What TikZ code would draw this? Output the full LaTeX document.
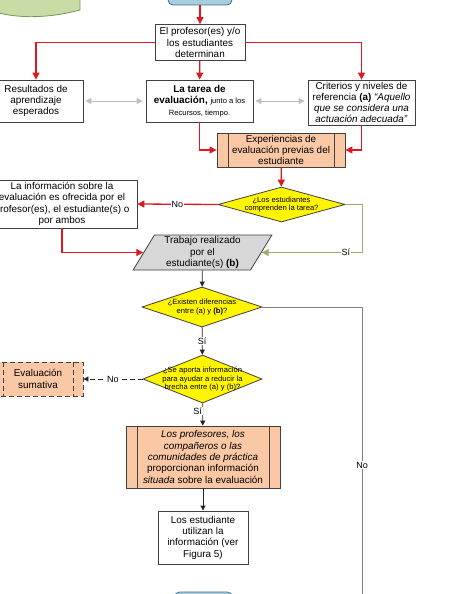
\documentclass[tikz,border=0pt]{standalone}
\usepackage{fontspec}
\setmainfont{Liberation Sans}
\usetikzlibrary{positioning,shapes.geometric,arrows.meta}

\begin{document}
\begin{tikzpicture}[x=1pt,y=-1pt,
  caja/.style={draw=black!75, fill=white, line width=0.8pt, align=center, inner sep=1pt,
    font=\fontsize{9.9}{11.3}\selectfont},
  proceso/.style={caja, fill=naranja, path picture={
      \draw[black!75, line width=0.8pt]
        ([xshift=11pt]path picture bounding box.north west) -- ([xshift=11pt]path picture bounding box.south west)
        ([xshift=-11pt]path picture bounding box.north east) -- ([xshift=-11pt]path picture bounding box.south east);}},
  sumativabox/.style={caja, fill=naranja, dash pattern=on 5pt off 3pt, path picture={
      \draw[black!75, line width=0.8pt, dash pattern=on 5pt off 3pt]
        ([xshift=10pt]path picture bounding box.north west) -- ([xshift=10pt]path picture bounding box.south west)
        ([xshift=-10pt]path picture bounding box.north east) -- ([xshift=-10pt]path picture bounding box.south east);}},
  decision/.style={diamond, draw=black!75, fill=amarillo, line width=0.8pt, inner sep=0pt},
  textodecision/.style={align=center, inner sep=0pt, font=\fontsize{7.6}{8.2}\selectfont},
  extremo/.style={draw=azulborde, fill=azul, line width=0.8pt, rounded corners=5pt},
  etiqueta/.style={fill=white, inner sep=1pt, font=\fontsize{9}{10}\selectfont},
  flecharoja/.style={draw=rojo, line width=1.3pt, -{Triangle[length=7pt,width=7pt]}},
  flechaverde/.style={draw=verdesi, line width=1pt, -{Triangle[length=7pt,width=7pt]}},
  flechagris/.style={draw=black!25, line width=1pt, {Triangle[length=6pt,width=6pt]}-{Triangle[length=6pt,width=6pt]}, shorten <=2pt, shorten >=3pt},
  flechanegra/.style={draw=black!85, line width=0.8pt, -{Triangle[length=5pt,width=5pt]}},
  lineagris/.style={draw=black!50, line width=1pt},
]
  % colors
  \definecolor{rojo}{RGB}{220,25,35}
  \definecolor{naranja}{RGB}{250,200,165}
  \definecolor{amarillo}{RGB}{255,245,0}
  \definecolor{grisclaro}{RGB}{215,215,215}
  \definecolor{verdesi}{RGB}{150,175,110}
  \definecolor{azul}{RGB}{165,205,220}
  \definecolor{azulborde}{RGB}{70,110,130}
  \definecolor{verdedoc}{RGB}{200,220,165}
  \definecolor{verdeborde}{RGB}{120,150,90}

  \useasboundingbox (0,0) rectangle (454,594);

  % shapes cut by the border
  \filldraw[fill=verdedoc, draw=verdeborde, line width=0.8pt]
    (-5,-5) -- (-5,12) .. controls (20,19) and (50,18) .. (80,10) -- (80,-5) -- cycle;
  \node[extremo, minimum width=64pt, minimum height=16pt] (inicio) at (200,-3) {};
  \node[extremo, minimum width=58pt, minimum height=16pt] (fin) at (203.5,600) {};

  % boxes
  \node[caja, minimum width=90pt, minimum height=36pt] (profesor) at (200,42.5)
    {El profesor(es) y/o\\los estudiantes\\determinan};
  \node[caja, minimum width=94pt, minimum height=42pt] (resultados) at (36,101)
    {Resultados de\\aprendizaje\\esperados};
  \node[caja, minimum width=107pt, minimum height=42pt] (tarea) at (199.5,101)
    {\textbf{La tarea de}\\\textbf{evaluación,} {\fontsize{7.6}{8.2}\selectfont junto a los}\\{\fontsize{7.6}{8.2}\selectfont Recursos, tiempo.}};
  \node[caja, minimum width=107pt, minimum height=45pt] (criterios) at (361.5,102.5)
    {Criterios y niveles de\\referencia \textbf{(a)} \textit{“Aquello}\\\textit{que se considera una}\\\textit{actuación adecuada”}};
  \node[proceso, minimum width=128pt, minimum height=34pt] (experiencias) at (281,150)
    {Experiencias de\\evaluación previas del\\estudiante};
  \node[decision, minimum width=127pt, minimum height=35pt,
    label={[textodecision]center:¿Los estudiantes\\comprenden la tarea?}] (comprenden) at (281.5,204.5) {};
  \node[caja, minimum width=150pt, minimum height=48pt] (info) at (62,204)
    {La información sobre la\\evaluación es ofrecida por el\\profesor(es), el estudiante(s) o\\por ambos};
  \node[caja, trapezium, trapezium left angle=62, trapezium right angle=118, trapezium stretches=true,
    fill=grisclaro, inner sep=0pt, minimum width=139pt, minimum height=35pt] (trabajo) at (202.5,252.5)
    {Trabajo realizado\\por el\\estudiante(s) \textbf{(b)}};
  \node[decision, minimum width=120pt, minimum height=40pt,
    label={[textodecision]center:¿Existen diferencias\\entre (a) y \textbf{(b)}?}] (diferencias) at (202,307) {};
  \node[decision, minimum width=119pt, minimum height=48pt,
    label={[textodecision]center:¿Se aporta información\\para ayudar a reducir la\\brecha entre (a) y (b)?}] (aporta) at (202.5,379) {};
  \node[sumativabox, minimum width=90pt, minimum height=34pt] (sumativa) at (38,379)
    {Evaluación\\sumativa};
  \node[proceso, minimum width=154pt, minimum height=62pt] (proporcionan) at (203,457)
    {\textit{Los profesores, los}\\\textit{compañeros o las}\\\textit{comunidades de práctica}\\proporcionan información\\\textit{situada} sobre la evaluación};
  \node[caja, minimum width=90pt, minimum height=53pt] (utilizan) at (203,537.5)
    {Los estudiante\\utilizan la\\información (ver\\Figura 5)};

  % red connectors
  \draw[flecharoja] (inicio) -- (profesor);
  \draw[flecharoja] (profesor.west) -| (resultados.north);
  \draw[flecharoja] (profesor) -- (tarea);
  \draw[flecharoja] (profesor.east) -| (criterios.north);
  \draw[flecharoja] (tarea.south) |- (experiencias.west);
  \draw[flecharoja] (criterios.south) |- (experiencias.east);
  \draw[flecharoja] (experiencias) -- (comprenden);
  \draw[flecharoja] (comprenden.west) -- node[etiqueta]{No} (info.east);
  \draw[flecharoja] (info.south) |- (trabajo.west);

  % grey double arrows
  \draw[flechagris] (resultados.east) -- (resultados.east -| tarea.west);
  \draw[flechagris] (tarea.east) -- (tarea.east -| criterios.west);

  % yes branch
  \coordinate (codosi) at (362,204.5);
  \draw[flechaverde] (comprenden.east) -- (codosi) |- node[etiqueta, pos=0.58]{Sí} (trabajo.east);

  % black connectors
  \draw[flechanegra] (trabajo) -- (diferencias);
  \draw[flechanegra] (diferencias) -- node[etiqueta]{Sí} (aporta);
  \draw[flechanegra, dash pattern=on 5pt off 3pt] (aporta.west) -- node[etiqueta]{No} (sumativa.east);
  \draw[flechanegra] (aporta) -- node[etiqueta, pos=0.35, xshift=-5pt]{Sí} (proporcionan);
  \draw[flechanegra] (proporcionan) -- (utilizan);

  % no branch to the bottom
  \coordinate (bajada) at (362,600);
  \draw[lineagris] (diferencias.east) -| node[etiqueta, pos=0.77]{No} (bajada);
\end{tikzpicture}
\end{document}
